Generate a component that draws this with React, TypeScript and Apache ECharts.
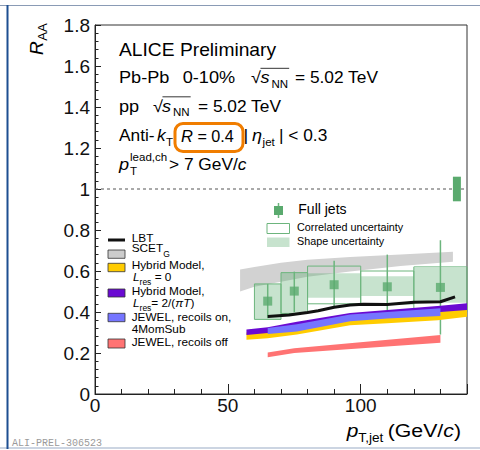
import React, { useEffect, useRef } from "react";
import * as echarts from "echarts";

const FONT = '"Liberation Sans", Arial, Helvetica, sans-serif';

// ---- Full jets (ALICE) ----
const binLo = [60, 70, 80, 100, 120];
const binHi = [70, 80, 100, 120, 140];
const binCenter = [65, 75, 90, 110, 130];
const raa = [0.453, 0.502, 0.533, 0.523, 0.52];
const statLo = [0.37, 0.40, 0.425, 0.41, 0.29];
const statHi = [0.537, 0.597, 0.65, 0.68, 0.75];
const corrLo = [0.364, 0.393, 0.44, 0.44, 0.40];
const corrHi = [0.537, 0.592, 0.624, 0.60, 0.62];
const shapeLo = [0.364, 0.393, 0.47, 0.478, 0.445];
const shapeHi = [0.537, 0.592, 0.589, 0.575, 0.615];
const normX = [134.7, 137.7];
const normY = [0.94, 1.06];

// ---- Models ----
const lbtX = [65, 73, 80, 84, 90, 96, 101, 110, 120, 130, 135.5];
const lbtY = [0.378, 0.385, 0.398, 0.406, 0.423, 0.434, 0.438, 0.437, 0.447, 0.45, 0.474];

const scetX = [54.6, 60, 70, 80, 96, 115, 134.7];
const scetLo = [0.5, 0.523, 0.547, 0.572, 0.598, 0.625, 0.645];
const scetHi = [0.607, 0.62, 0.64, 0.655, 0.668, 0.68, 0.694];

const hyb0X = [57, 65, 76, 96, 110, 129, 140];
const hyb0Lo = [0.265, 0.272, 0.29, 0.335, 0.345, 0.36, 0.377];
const hyb0Hi = [0.3, 0.31, 0.33, 0.37, 0.385, 0.4, 0.415];

const hybTX = [57, 65, 76, 96, 110, 130, 140];
const hybTLo = [0.288, 0.297, 0.318, 0.36, 0.378, 0.4, 0.41];
const hybTHi = [0.315, 0.326, 0.352, 0.395, 0.41, 0.43, 0.443];

const jewOnX = [65, 76, 96, 110, 130];
const jewOnLo = [0.293, 0.305, 0.355, 0.368, 0.38];
const jewOnHi = [0.322, 0.34, 0.388, 0.4, 0.418];

const jewOffX = [65, 75, 130];
const jewOffLo = [0.179, 0.2, 0.25];
const jewOffHi = [0.203, 0.223, 0.288];

const yTicks = { min: 0, max: 1.8, interval: 0.2 };
const xTicks = { min: 0, max: 140, major: 50, minor: 10 };

const GREEN = "#5aaa6e";
const GREEN_LINE = "#6cb57d";
const GREEN_FILL = "rgba(95,175,115,0.35)";
const YELLOW = "#ffcc00";
const PURPLE = "#6a0ad2";
const BLUE = "#7575ff";
const RED = "#ff7373";
const GRAY = "#d2d2d2";

let ctx2d: CanvasRenderingContext2D | null = null;
function tw(t: string, s: number, italic = false, family = FONT) {
  if (!ctx2d) ctx2d = document.createElement("canvas").getContext("2d");
  ctx2d!.font = `${italic ? "italic " : ""}${s}px ${family}`;
  return ctx2d!.measureText(t).width;
}

type Opt = { i?: boolean; k?: number; color?: string; family?: string };
function txt(x: number, base: number, t: string, s: number, o: Opt = {}) {
  return {
    type: "text",
    x,
    y: base - 0.35 * s,
    scaleX: o.k ?? 1,
    silent: true,
    style: {
      text: t,
      fontSize: s,
      fontFamily: o.family ?? FONT,
      fontStyle: o.i ? "italic" : "normal",
      fill: o.color ?? "#000",
      align: "left",
      verticalAlign: "middle",
    },
  };
}
function adv(t: string, s: number, o: Opt = {}) {
  return tw(t, s, !!o.i, o.family ?? FONT) * (o.k ?? 1);
}

function bandSeries(xs: number[], lo: number[], hi: number[], color: string, z: number) {
  return {
    type: "custom",
    z,
    silent: true,
    data: xs.map((x, i) => [x, lo[i], hi[i]]),
    renderItem: (params: any, api: any) => {
      if (params.dataIndex !== 0) return null;
      const pts: number[][] = [];
      for (let i = 0; i < xs.length; i++) pts.push(api.coord([xs[i], hi[i]]));
      for (let i = xs.length - 1; i >= 0; i--) pts.push(api.coord([xs[i], lo[i]]));
      return { type: "polygon", shape: { points: pts }, style: { fill: color } };
    },
  };
}

function buildGraphics() {
  const g: any[] = [];
  const H = 16.5;
  const HS = 11;
  const K = 1.1;
  const KS = 1.05;
  // slide frame
  g.push({ type: "line", silent: true, shape: { x1: 0, y1: 5.5, x2: 480, y2: 5.5 }, style: { stroke: "#8a9bb5", lineWidth: 1.2 } });
  g.push({ type: "line", silent: true, shape: { x1: 0, y1: 448, x2: 480, y2: 448 }, style: { stroke: "#9aabc5", lineWidth: 1.2 } });
  g.push({ type: "line", silent: true, shape: { x1: 7.5, y1: 5, x2: 7.5, y2: 449 }, style: { stroke: "#1d4f91", lineWidth: 2 } });

  // header
  g.push(txt(119, 55.7, "ALICE Preliminary", 17.5, { k: K }));
  const sqrtRun = (x: number, b: number, xs: number, xn: number) => {
    g.push(txt(x, b, "√", H, { k: K }));
    g.push(txt(xs, b, "s", H, { i: true, k: K }));
    g.push(txt(xn, b + 4, "NN", HS, { k: KS }));
    const end = xn + adv("NN", HS, { k: KS });
    g.push({ type: "line", silent: true, shape: { x1: x + adv("√", H, { k: K }) - 0.5, y1: b - 0.92 * H, x2: end + 1, y2: b - 0.92 * H }, style: { stroke: "#000", lineWidth: 0.8 } });
  };
  let b = 83.5;
  g.push(txt(119, b, "Pb-Pb", H, { k: K }));
  g.push(txt(182.7, b, "0-10%", H, { k: K }));
  sqrtRun(251, b, 260.5, 271.5);
  g.push(txt(295, b, "= 5.02 TeV", H, { k: 1.05 }));
  b = 112;
  g.push(txt(119, b, "pp", H, { k: K }));
  sqrtRun(153, b, 162, 173);
  g.push(txt(198, b, "= 5.02 TeV", H, { k: 1.05 }));
  b = 141.5;
  g.push(txt(119, b, "Anti-", H, { k: 1.05 }));
  g.push(txt(157, b, "k", H, { i: true, k: 1.05 }));
  g.push(txt(166, b + 4, "T", HS, { k: KS }));
  g.push(txt(181, b, "R", H, { i: true, k: 1.0 }));
  g.push(txt(181 + adv("R", H, { i: true }), b, " = 0.4", H, { k: 0.98 }));
  g.push(txt(243.5, b, "|", H, { k: K }));
  g.push(txt(252, b, "η", H, { i: true, k: K }));
  g.push(txt(252 + adv("η", H, { i: true, k: K }) + 0.5, b + 4, "jet", HS, { k: KS }));
  g.push(txt(279, b, "| < 0.3", H, { k: 1.05 }));
  g.push({ type: "rect", silent: true, shape: { x: 175, y: 123.5, width: 68, height: 28, r: 8 }, style: { fill: "none", stroke: "#f07d00", lineWidth: 3 } });
  b = 170;
  g.push(txt(119, b, "p", H, { i: true, k: K }));
  g.push(txt(130, b + 4.5, "T", HS, { k: KS }));
  g.push(txt(130, b - 9, "lead,ch", HS, { k: KS }));
  g.push(txt(169, b, "> 7 GeV/", H, { k: 1.05 }));
  g.push(txt(169 + adv("> 7 GeV/", H, { k: 1.05 }), b, "c", H, { i: true, k: 1.05 }));

  // y axis title R_AA (rotated)
  g.push({
    type: "group",
    x: 43,
    y: 55,
    rotation: Math.PI / 2,
    silent: true,
    children: [
      txt(0, 0, "R", 19, { i: true }),
      txt(adv("R", 19, { i: true }) + 0.5, 4.5, "AA", 13),
    ],
  });
  // x axis title
  let x = 346.7;
  b = 437;
  g.push(txt(x, b, "p", 19, { i: true, k: 1.1 }));
  g.push(txt(x + adv("p", 19, { i: true, k: 1.1 }), b + 5, "T,jet", 13, { k: 1.05 }));
  x = 387.7;
  g.push(txt(x, b, "(GeV/", 19, { k: 1.12 }));
  x += adv("(GeV/", 19, { k: 1.12 });
  g.push(txt(x, b, "c", 19, { i: true, k: 1.12 }));
  x += adv("c", 19, { i: true, k: 1.12 });
  g.push(txt(x, b, ")", 19, { k: 1.12 }));

  // watermark
  g.push(txt(12, 446.5, "ALI-PREL-306523", 10, { family: '"Liberation Mono", "DejaVu Sans Mono", monospace', color: "#9a9a9a" }));

  // data legend
  g.push({ type: "line", silent: true, shape: { x1: 278.5, y1: 203, x2: 278.5, y2: 218 }, style: { stroke: GREEN_LINE, lineWidth: 1.5 } });
  g.push({ type: "rect", silent: true, shape: { x: 274, y: 206, width: 9, height: 9 }, style: { fill: GREEN } });
  g.push(txt(298.3, 213.5, "Full jets", 14));
  g.push({ type: "rect", silent: true, shape: { x: 267, y: 223.5, width: 22.5, height: 10 }, style: { fill: "#fff", stroke: GREEN_LINE, lineWidth: 1 } });
  g.push(txt(297, 230.8, "Correlated uncertainty", 10.8));
  g.push({ type: "rect", silent: true, shape: { x: 267, y: 237.5, width: 22.5, height: 9.5 }, style: { fill: GREEN_FILL } });
  g.push(txt(297, 244.5, "Shape uncertainty", 10.8));

  // model legend
  const L = 11.8;
  const LS = 8.5;
  g.push({ type: "line", silent: true, shape: { x1: 108, y1: 240, x2: 125, y2: 240 }, style: { stroke: "#111", lineWidth: 3 } });
  g.push(txt(131.7, 242.6, "LBT", L));
  const sw = (y: number, h: number, fill: string) =>
    g.push({ type: "rect", silent: true, shape: { x: 108, y, width: 17, height: h }, style: { fill, stroke: "#333", lineWidth: 0.8 } });
  sw(250, 8.3, "#cccccc");
  g.push(txt(131.7, 252.6, "SCET", L));
  g.push(txt(131.7 + adv("SCET", L), 256.5, "G", LS));
  sw(263.3, 8.4, YELLOW);
  g.push(txt(131.7, 269.3, "Hybrid Model,", L));
  g.push(txt(133, 281.6, "L", L, { i: true }));
  g.push(txt(133 + adv("L", L, { i: true }), 284.5, "res", LS));
  g.push(txt(133 + adv("L", L, { i: true }) + adv("res", LS), 281.6, " = 0", L));
  sw(289, 8, PURPLE);
  g.push(txt(131.7, 295.3, "Hybrid Model,", L));
  x = 133;
  g.push(txt(x, 307.6, "L", L, { i: true }));
  x += adv("L", L, { i: true });
  g.push(txt(x, 310.5, "res", LS));
  x += adv("res", LS);
  g.push(txt(x, 307.6, "= 2/(", L));
  x += adv("= 2/(", L);
  g.push(txt(x, 307.6, "πT", L, { i: true }));
  x += adv("πT", L, { i: true });
  g.push(txt(x, 307.6, ")", L));
  sw(313.3, 8.4, BLUE);
  g.push(txt(131.7, 321, "JEWEL, recoils on,", L));
  g.push(txt(131.7, 333.3, "4MomSub", L));
  sw(339, 9, RED);
  g.push(txt(131.7, 346, "JEWEL, recoils off", L));
  return g;
}

export default function App() {
  const ref = useRef<HTMLDivElement>(null);
  useEffect(() => {
    if (!ref.current) return;
    const chart = echarts.init(ref.current, undefined, { renderer: "svg" });
    const axisColor = "#222";
    chart.setOption({
      animation: false,
      backgroundColor: "#fff",
      grid: { left: 95, right: 13, top: 25, bottom: 56, show: true, borderColor: "#333", borderWidth: 1 },
      xAxis: [
        {
          type: "value",
          min: xTicks.min,
          max: xTicks.max,
          interval: xTicks.minor,
          position: "bottom",
          axisLine: { show: true, lineStyle: { color: axisColor, width: 1 } },
          axisTick: { show: true, inside: true, length: 5, lineStyle: { color: axisColor } },
          axisLabel: { show: false },
          splitLine: { show: false },
        },
        {
          type: "value",
          min: xTicks.min,
          max: xTicks.max,
          interval: xTicks.major,
          position: "bottom",
          axisLine: { show: false },
          axisTick: { show: true, inside: true, length: 10, lineStyle: { color: axisColor } },
          axisLabel: {
            fontSize: 19,
            color: "#111",
            fontFamily: FONT,
            margin: 2,
            formatter: (v: number) => (v % xTicks.major === 0 ? String(v) : ""),
          },
          splitLine: { show: false },
        },
      ],
      yAxis: {
        type: "value",
        min: yTicks.min,
        max: yTicks.max,
        interval: yTicks.interval,
        axisLine: { show: true, lineStyle: { color: axisColor, width: 1 } },
        axisTick: { show: true, inside: true, length: 6, lineStyle: { color: axisColor } },
        minorTick: { show: true, splitNumber: 5, length: 3.5, lineStyle: { color: axisColor } },
        axisLabel: { fontSize: 19, color: "#111", fontFamily: FONT, margin: 5 },
        splitLine: { show: false },
      },
      series: [
        bandSeries(scetX, scetLo, scetHi, GRAY, 1),
        {
          type: "custom",
          z: 2,
          silent: true,
          data: binLo.map((l, i) => [l, binHi[i], shapeLo[i], shapeHi[i]]),
          renderItem: (p: any, api: any) => {
            const a = api.coord([api.value(0), api.value(3)]);
            const c = api.coord([api.value(1), api.value(2)]);
            return { type: "rect", shape: { x: a[0], y: a[1], width: c[0] - a[0], height: c[1] - a[1] }, style: { fill: GREEN_FILL } };
          },
        },
        {
          type: "custom",
          z: 3,
          silent: true,
          data: binLo.map((l, i) => [l, binHi[i], corrLo[i], corrHi[i]]),
          renderItem: (p: any, api: any) => {
            const a = api.coord([api.value(0), api.value(3)]);
            const c = api.coord([api.value(1), api.value(2)]);
            return { type: "rect", shape: { x: a[0], y: a[1], width: c[0] - a[0], height: c[1] - a[1] }, style: { fill: "none", stroke: GREEN_LINE, lineWidth: 1 } };
          },
        },
        {
          type: "custom",
          z: 3,
          silent: true,
          data: binCenter.map((x, i) => [x, statLo[i], statHi[i]]),
          renderItem: (p: any, api: any) => {
            const a = api.coord([api.value(0), api.value(1)]);
            const c = api.coord([api.value(0), api.value(2)]);
            return { type: "line", shape: { x1: a[0], y1: a[1], x2: c[0], y2: c[1] }, style: { stroke: GREEN_LINE, lineWidth: 1.5 } };
          },
        },
        {
          type: "scatter",
          z: 4,
          silent: true,
          symbol: "rect",
          symbolSize: 9,
          itemStyle: { color: GREEN },
          data: binCenter.map((x, i) => [x, raa[i]]),
        },
        {
          type: "custom",
          z: 4,
          silent: true,
          data: [[normX[0], normX[1], normY[0], normY[1]]],
          renderItem: (p: any, api: any) => {
            const a = api.coord([api.value(0), api.value(3)]);
            const c = api.coord([api.value(1), api.value(2)]);
            return { type: "rect", shape: { x: a[0], y: a[1], width: c[0] - a[0], height: c[1] - a[1] }, style: { fill: GREEN } };
          },
        },
        {
          type: "line",
          z: 1,
          silent: true,
          showSymbol: false,
          lineStyle: { color: "#555", width: 1, type: [3, 3] },
          data: [[xTicks.min, 1], [xTicks.max, 1]],
        },
        bandSeries(hyb0X, hyb0Lo, hyb0Hi, YELLOW, 5),
        bandSeries(hybTX, hybTLo, hybTHi, PURPLE, 6),
        bandSeries(jewOnX, jewOnLo, jewOnHi, BLUE, 7),
        bandSeries(jewOffX, jewOffLo, jewOffHi, RED, 8),
        {
          type: "line",
          z: 9,
          silent: true,
          showSymbol: false,
          lineStyle: { color: "#111", width: 3 },
          data: lbtX.map((x, i) => [x, lbtY[i]]),
        },
      ],
      graphic: buildGraphics(),
    });
    return () => chart.dispose();
  }, []);
  return <div ref={ref} style={{ position: "fixed", left: 0, top: 0, width: 480, height: 450 }} />;
}
